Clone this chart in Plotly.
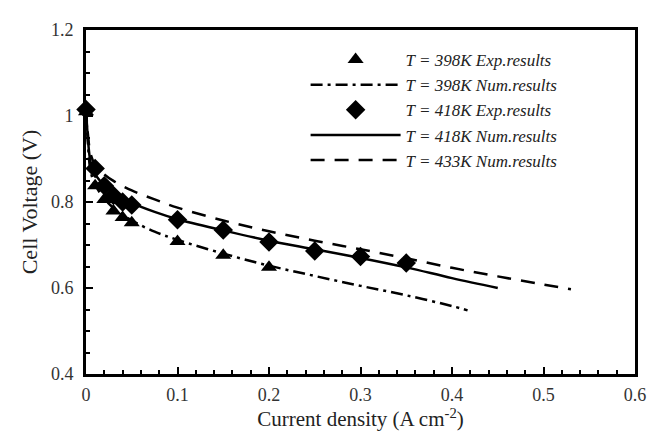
import plotly.graph_objects as go

# Experimental data
exp398_x = [0, 0.01, 0.02, 0.03, 0.04, 0.05, 0.10, 0.15, 0.20]
exp398_y = [1.01, 0.838, 0.806, 0.779, 0.764, 0.752, 0.708, 0.676, 0.648]

exp418_x = [0, 0.01, 0.02, 0.03, 0.04, 0.05, 0.10, 0.15, 0.20, 0.25, 0.30, 0.35]
exp418_y = [1.015, 0.878, 0.838, 0.815, 0.800, 0.793, 0.759, 0.735, 0.707, 0.686, 0.673, 0.658]

# Numerical results
num398_x = [0, 0.002, 0.005, 0.01, 0.02, 0.03, 0.05, 0.075, 0.10, 0.15, 0.20, 0.25, 0.30, 0.35, 0.40, 0.417]
num398_y = [1.02, 0.94, 0.872, 0.840, 0.808, 0.786, 0.757, 0.731, 0.712, 0.680, 0.652, 0.628, 0.605, 0.583, 0.558, 0.548]

num418_x = [0, 0.002, 0.005, 0.01, 0.02, 0.03, 0.05, 0.075, 0.10, 0.15, 0.20, 0.25, 0.30, 0.35, 0.40, 0.45]
num418_y = [1.02, 0.95, 0.893, 0.865, 0.839, 0.822, 0.798, 0.777, 0.760, 0.734, 0.710, 0.690, 0.670, 0.648, 0.623, 0.600]

num433_x = [0, 0.002, 0.005, 0.01, 0.02, 0.03, 0.05, 0.075, 0.10, 0.15, 0.20, 0.25, 0.30, 0.35, 0.40, 0.45, 0.50, 0.53]
num433_y = [1.02, 0.96, 0.912, 0.886, 0.864, 0.849, 0.827, 0.806, 0.787, 0.757, 0.732, 0.710, 0.690, 0.669, 0.647, 0.627, 0.608, 0.597]

FONT = "Liberation Serif"

fig = go.Figure()
fig.add_trace(go.Scatter(x=exp398_x, y=exp398_y, mode="markers", name="T = 398K Exp.results",
                         marker=dict(symbol="triangle-up", size=14, color="black"), cliponaxis=False))
fig.add_trace(go.Scatter(x=num398_x, y=num398_y, mode="lines", name="T = 398K Num.results",
                         line=dict(color="black", width=2.5, dash="12px,5px,3px,5px", shape="spline")))
fig.add_trace(go.Scatter(x=exp418_x, y=exp418_y, mode="markers", name="T = 418K Exp.results",
                         marker=dict(symbol="diamond", size=15, color="black"), cliponaxis=False))
fig.add_trace(go.Scatter(x=num418_x, y=num418_y, mode="lines", name="T = 418K Num.results",
                         line=dict(color="black", width=2.5, shape="spline")))
fig.add_trace(go.Scatter(x=num433_x, y=num433_y, mode="lines", name="T = 433K Num.results",
                         line=dict(color="black", width=2.5, dash="14px,10px", shape="spline")))

axis_common = dict(showline=True, linecolor="black", linewidth=3, mirror=True,
                   ticks="inside", tickcolor="black", tickwidth=2, ticklen=7,
                   showgrid=False, zeroline=False,
                   tickfont=dict(family=FONT, size=18, color="#333"))

fig.update_layout(
    width=655, height=431,
    margin=dict(l=78, r=28, t=18, b=58),
    paper_bgcolor="white", plot_bgcolor="white",
    font=dict(family=FONT, color="#222"),
    xaxis=dict(range=[0, 0.6], tick0=0, dtick=0.1, ticklabelstandoff=2,
               minor=dict(dtick=0.02, ticks="inside", ticklen=4, tickcolor="black", tickwidth=1.5),
               title=dict(text="Current density (A cm<sup>-2</sup>)", font=dict(family=FONT, size=21), standoff=8),
               **axis_common),
    yaxis=dict(range=[0.4, 1.2], tick0=0.4, dtick=0.2, ticklabelstandoff=6,
               minor=dict(dtick=0.05, ticks="inside", ticklen=4, tickcolor="black", tickwidth=1.5),
               title=dict(text="Cell Voltage (V)", font=dict(family=FONT, size=22), standoff=8),
               **axis_common),
    legend=dict(x=0.40, y=0.965, xanchor="left", yanchor="top", bgcolor="rgba(0,0,0,0)",
                font=dict(family=FONT, size=17, style="italic", color="#222"),
                itemwidth=90, tracegroupgap=0),
)

fig.write_html("out.html")
